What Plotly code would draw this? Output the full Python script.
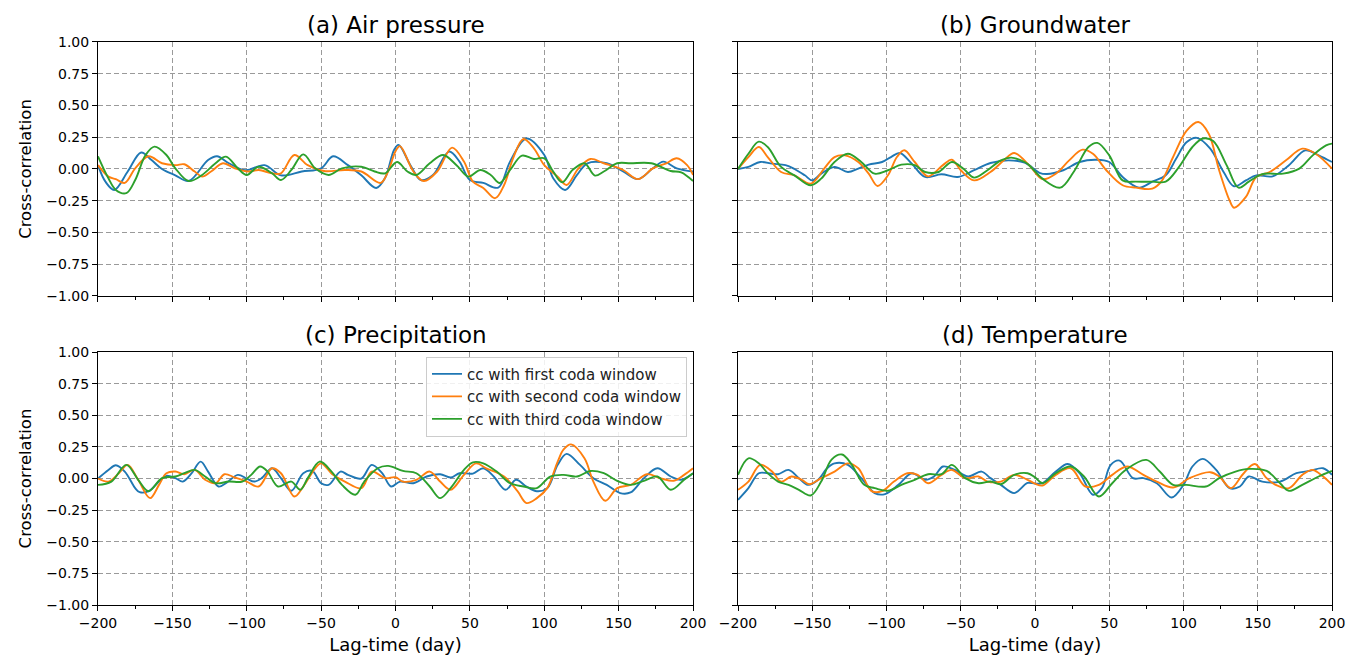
import plotly.graph_objects as go

# ---------------- data (lag in days, cross-correlation) ----------------
ap_first_lag = [-200,-195,-189,-180,-171,-164,-157,-148,-139,-126,-120,-112,-101,-88,-77,-63,-50,-42,-32,-23,-13,-7,-1,2,10,17,25,36,43,50,59,69,77,88,100,106,114,122,129,142,153,163,173,180,189,200]
ap_first_cc = [0.03,-0.1,-0.165,-0.02,0.13,0.07,0.0,-0.05,-0.095,0.07,0.1,0.045,-0.01,0.03,-0.05,-0.02,0.005,0.1,0.03,-0.05,-0.15,-0.07,0.15,0.19,0.03,-0.087,-0.05,0.137,0.058,-0.087,-0.11,-0.147,0.058,0.24,0.11,-0.073,-0.165,-0.047,0.045,0.045,-0.02,-0.08,0.005,0.058,0.005,-0.02]
ap_second_lag = [-200,-193,-188,-182,-175,-166,-157,-148,-142,-135,-130,-124,-116,-108,-99,-92,-83,-77,-68,-59,-48,-34,-23,-10,-5,0,3,12,19,28,38,46,52,59,67,73,79,86,93,100,109,115,123,131,140,153,163,173,182,189,196,200]
ap_second_cc = [0.03,-0.06,-0.08,-0.11,0.005,0.1,0.045,0.03,0.037,-0.02,-0.06,-0.02,0.045,0.005,-0.02,-0.008,-0.034,-0.034,0.11,0.03,-0.016,-0.008,-0.02,-0.11,-0.02,0.14,0.18,-0.02,-0.095,-0.02,0.168,0.058,-0.1,-0.15,-0.23,-0.126,0.084,0.236,0.163,0.03,-0.06,-0.126,0.005,0.079,0.045,-0.008,-0.08,0.005,0.045,0.084,0.03,-0.047]
ap_third_lag = [-200,-193,-188,-181,-175,-168,-162,-154,-148,-139,-130,-121,-114,-106,-100,-92,-83,-77,-70,-62,-54,-45,-36,-23,-14,-7,1,8,14,23,32,41,49,57,64,70,77,85,93,100,106,112,119,127,134,140,149,158,172,185,192,200]
ap_third_cc = [0.1,-0.073,-0.165,-0.19,-0.087,0.11,0.176,0.11,0.005,-0.095,-0.047,0.045,0.097,0.005,-0.047,0.018,-0.034,-0.087,-0.008,0.115,0.005,-0.047,0.005,0.018,-0.02,-0.034,0.055,-0.02,-0.047,0.045,0.11,0.03,-0.06,-0.008,-0.047,-0.11,-0.008,0.105,0.079,0.084,-0.02,-0.105,-0.008,0.045,-0.052,-0.02,0.045,0.045,0.045,-0.016,-0.026,-0.095]

gw_first_lag = [-200,-193,-185,-177,-168,-162,-155,-150,-144,-135,-126,-119,-112,-103,-97,-91,-83,-74,-63,-52,-41,-30,-18,-7,-4,3,8,19,30,41,50,59,70,79,88,95,102,109,118,127,134,142,149,160,171,182,191,200]
gw_first_cc = [0.0,0.016,0.055,0.042,0.03,0.0,-0.05,-0.09,-0.037,0.016,-0.024,0.003,0.034,0.055,0.094,0.126,0.042,-0.063,-0.042,-0.063,-0.01,0.047,0.068,0.05,0.03,-0.03,-0.04,-0.01,0.055,0.073,0.055,-0.063,-0.147,-0.1,-0.05,0.08,0.21,0.245,0.16,-0.024,-0.136,-0.09,-0.05,-0.058,0.03,0.147,0.108,0.055]
gw_second_lag = [-200,-193,-186,-180,-171,-162,-151,-142,-135,-128,-119,-112,-106,-99,-93,-88,-81,-72,-62,-56,-50,-41,-30,-21,-14,-4,5,14,23,32,39,48,59,68,79,85,93,102,110,117,124,131,134,142,149,158,169,180,189,200]
gw_second_cc = [0.0,0.094,0.173,0.094,-0.024,-0.05,-0.115,0.003,0.094,0.107,0.055,-0.037,-0.134,-0.05,0.094,0.147,0.055,-0.058,0.03,0.073,-0.01,-0.09,-0.024,0.068,0.126,0.03,-0.08,-0.037,0.068,0.152,0.12,-0.01,-0.128,-0.147,-0.155,-0.1,0.094,0.3,0.37,0.278,-0.01,-0.247,-0.305,-0.22,-0.063,-0.024,0.068,0.16,0.12,0.003]
gw_third_lag = [-200,-193,-186,-180,-171,-162,-151,-144,-135,-126,-117,-108,-99,-90,-81,-74,-65,-56,-48,-41,-32,-23,-16,-7,-4,5,17,26,36,42,50,59,68,79,88,97,106,113,120,129,137,144,153,167,178,187,196,200]
gw_third_cc = [0.0,0.12,0.215,0.173,0.016,-0.05,-0.128,-0.076,0.055,0.12,0.055,-0.037,-0.01,0.034,0.03,-0.024,-0.024,0.055,0.0,-0.068,-0.01,0.068,0.089,0.055,0.03,-0.076,-0.147,-0.024,0.173,0.205,0.107,-0.09,-0.1,-0.1,-0.1,0.016,0.173,0.24,0.22,0.03,-0.147,-0.1,-0.04,-0.037,0.003,0.107,0.186,0.2]

pr_first_lag = [-200,-193,-188,-182,-175,-172,-166,-159,-154,-148,-143,-137,-131,-126,-119,-114,-106,-100,-95,-90,-83,-77,-70,-62,-56,-50,-45,-37,-32,-23,-16,-9,-3,3,12,21,30,37,43,52,59,66,74,81,88,95,102,109,115,124,133,142,151,158,167,176,185,192,200]
pr_first_cc = [0.0,0.068,0.105,0.055,-0.076,-0.108,-0.1,-0.024,0.021,0.003,-0.024,0.042,0.134,0.055,-0.063,-0.037,0.029,0.0,-0.024,0.003,0.081,0.003,-0.097,0.042,0.06,-0.037,-0.05,0.055,0.029,0.0,0.108,0.042,-0.063,-0.024,-0.037,0.016,0.034,0.008,0.042,0.039,0.081,0.016,-0.089,-0.01,-0.063,-0.1,-0.076,0.108,0.195,0.108,0.003,-0.05,-0.115,-0.11,0.003,0.081,0.016,-0.01,0.042]
pr_second_lag = [-200,-193,-186,-180,-173,-165,-159,-154,-148,-142,-135,-128,-121,-115,-108,-100,-92,-83,-77,-68,-62,-54,-50,-42,-34,-23,-16,-7,0,5,14,23,30,37,46,54,61,73,82,88,95,102,109,113,118,127,133,141,149,158,169,178,187,194,200]
pr_second_cc = [0.0,-0.024,0.042,0.108,-0.01,-0.155,-0.05,0.042,0.055,0.034,0.068,-0.01,-0.037,0.034,0.008,-0.024,-0.063,0.081,0.042,-0.142,-0.063,0.081,0.12,0.029,-0.024,-0.076,0.055,0.003,0.01,-0.024,-0.01,0.055,-0.024,-0.089,0.029,0.12,0.081,0.016,-0.1,-0.194,-0.155,-0.076,0.134,0.23,0.27,0.16,-0.024,-0.176,-0.076,-0.05,0.034,0.003,-0.018,0.029,0.081]
pr_third_lag = [-200,-191,-181,-173,-166,-157,-148,-142,-135,-128,-121,-112,-103,-97,-91,-86,-79,-70,-64,-59,-51,-43,-36,-27,-21,-12,-5,5,14,23,30,37,46,52,59,68,77,86,95,104,113,122,131,140,149,158,167,176,185,194,200]
pr_third_cc = [-0.05,-0.024,0.108,-0.01,-0.1,0.003,0.016,0.042,0.068,0.016,-0.037,-0.024,-0.024,0.029,0.095,0.055,-0.063,-0.024,-0.089,0.003,0.134,0.055,-0.05,-0.128,-0.024,0.081,0.1,0.06,0.042,-0.063,-0.155,-0.076,0.068,0.128,0.12,0.055,-0.037,-0.063,-0.076,0.016,0.029,0.016,0.06,0.042,-0.018,-0.05,-0.018,0.016,-0.089,-0.01,0.042]

te_first_lag = [-200,-193,-186,-180,-173,-166,-159,-153,-146,-140,-135,-126,-117,-108,-101,-92,-83,-74,-68,-62,-54,-45,-36,-30,-23,-14,-5,0,5,14,22,30,39,45,51,57,66,73,82,92,100,106,113,122,131,138,144,153,165,176,185,194,200]
te_first_cc = [-0.168,-0.076,0.042,0.042,0.034,0.068,0.003,-0.05,-0.01,0.081,0.12,0.108,0.003,-0.115,-0.123,-0.05,0.042,-0.01,0.016,0.095,0.068,0.016,0.055,0.003,-0.05,-0.115,-0.035,-0.04,-0.037,0.055,0.115,0.042,-0.128,-0.076,0.108,0.142,0.003,0.003,-0.037,-0.15,-0.05,0.095,0.155,0.068,-0.076,-0.063,0.016,-0.024,-0.024,0.042,0.06,0.081,0.029]
te_second_lag = [-200,-193,-185,-177,-171,-164,-157,-152,-144,-135,-126,-119,-110,-103,-95,-86,-79,-72,-63,-56,-47,-38,-32,-23,-14,-5,0,5,14,24,34,43,52,62,73,82,93,104,118,124,132,140,148,156,162,171,180,187,194,200]
te_second_cc = [-0.089,-0.024,0.108,0.055,-0.024,0.016,-0.01,-0.045,0.003,0.055,0.12,0.081,-0.1,-0.1,-0.024,0.042,0.029,-0.037,0.029,0.068,0.003,0.016,-0.024,-0.024,0.029,-0.01,-0.04,-0.055,0.029,0.081,-0.063,-0.05,0.029,0.095,0.029,-0.024,-0.071,0.003,0.05,0.016,-0.076,0.034,0.115,0.003,-0.05,-0.076,0.029,0.068,0.016,-0.05]
te_third_lag = [-200,-193,-186,-180,-173,-166,-159,-151,-144,-137,-130,-124,-115,-108,-99,-90,-81,-72,-63,-56,-47,-38,-30,-23,-14,-5,0,5,14,24,33,43,52,61,75,84,93,102,115,124,135,144,156,165,171,180,191,200]
te_third_cc = [0.029,0.16,0.12,0.042,-0.024,-0.05,-0.089,-0.134,-0.024,0.15,0.19,0.12,-0.05,-0.076,-0.097,-0.05,-0.01,0.034,0.034,0.108,0.003,-0.037,-0.024,-0.045,0.029,0.042,0.01,-0.037,0.042,0.095,0.016,-0.142,-0.037,0.068,0.147,0.055,-0.05,-0.05,-0.063,0.003,0.055,0.076,0.06,-0.037,-0.097,-0.05,0.016,0.06]

panel_titles = ["(a) Air pressure", "(b) Groundwater", "(c) Precipitation", "(d) Temperature"]
series_names = ["cc with first coda window", "cc with second coda window", "cc with third coda window"]
series_colors = ["#1f77b4", "#ff7f0e", "#2ca02c"]
x_ticks = [-200, -150, -100, -50, 0, 50, 100, 150, 200]
y_ticks = [-1.0, -0.75, -0.5, -0.25, 0.0, 0.25, 0.5, 0.75, 1.0]

panels = [
    [(ap_first_lag, ap_first_cc), (ap_second_lag, ap_second_cc), (ap_third_lag, ap_third_cc)],
    [(gw_first_lag, gw_first_cc), (gw_second_lag, gw_second_cc), (gw_third_lag, gw_third_cc)],
    [(pr_first_lag, pr_first_cc), (pr_second_lag, pr_second_cc), (pr_third_lag, pr_third_cc)],
    [(te_first_lag, te_first_cc), (te_second_lag, te_second_cc), (te_third_lag, te_third_cc)],
]


def fmt(v, d):
    s = f"{v:.{d}f}"
    return s.replace("-", "\u2212")


FONT = "DejaVu Sans"
xdoms = [[0.0728, 0.5149], [0.5483, 0.9896]]
ydoms = [[0.5502, 0.9362], [0.0805, 0.4650]]

fig = go.Figure()
for p, series in enumerate(panels):
    ax = "" if p == 0 else str(p + 1)
    for s, (lag, cc) in enumerate(series):
        fig.add_trace(go.Scatter(
            x=lag, y=cc, mode="lines",
            line=dict(color=series_colors[s], width=1.9, shape="spline", smoothing=1.0),
            name=series_names[s], showlegend=(p == 2), legendgroup=series_names[s],
            xaxis="x" + ax, yaxis="y" + ax, hoverinfo="skip",
        ))

layout = dict(
    width=1346, height=658, margin=dict(l=0, r=0, t=0, b=0, autoexpand=False),
    paper_bgcolor="white", plot_bgcolor="white",
    font=dict(family=FONT, size=14, color="black"),
    showlegend=True,
    legend=dict(x=0.5104, xanchor="right", y=0.458, yanchor="top",
                bgcolor="rgba(255,255,255,0.85)", bordercolor="#cccccc", borderwidth=1,
                font=dict(family=FONT, size=15, color="#222222"),
                tracegroupgap=0, itemwidth=30),
    annotations=[],
)

for p in range(4):
    row, col = divmod(p, 2)
    ax = "" if p == 0 else str(p + 1)
    xa = dict(
        domain=xdoms[col], range=[-200, 200], anchor="y" + ax, automargin=False,
        showline=True, linecolor="black", linewidth=1, mirror=True,
        ticks="outside", ticklen=5, tickcolor="black", tickwidth=1,
        tickvals=x_ticks, ticktext=[fmt(v, 0) for v in x_ticks],
        showticklabels=(row == 1),
        showgrid=True, gridcolor="#9a9a9a", gridwidth=1, griddash="5px,3px",
        zeroline=False,
        minor=dict(dtick=25, tick0=0, ticks="outside", ticklen=3, tickcolor="black", showgrid=False),
        tickfont=dict(family=FONT, size=14, color="black"),
    )
    if row == 1:
        xa["title"] = dict(text="Lag-time (day)", font=dict(family=FONT, size=18, color="black"), standoff=8)
    ya = dict(
        domain=ydoms[row], range=[-1, 1], anchor="x" + ax, automargin=False,
        showline=True, linecolor="black", linewidth=1, mirror=True,
        ticks="outside", ticklen=5, tickcolor="black", tickwidth=1,
        tickvals=y_ticks, ticktext=[fmt(v, 2) for v in y_ticks],
        showticklabels=(col == 0),
        showgrid=True, gridcolor="#9a9a9a", gridwidth=1, griddash="5px,3px",
        zeroline=False,
        tickfont=dict(family=FONT, size=14, color="black"),
    )
    if col == 0:
        ya["title"] = dict(text="Cross-correlation", font=dict(family=FONT, size=16.5, color="black"), standoff=10)
    layout["xaxis" + ax] = xa
    layout["yaxis" + ax] = ya
    layout["annotations"].append(dict(
        text=panel_titles[p], xref="paper", yref="paper",
        x=(xdoms[col][0] + xdoms[col][1]) / 2, y=ydoms[row][1],
        xanchor="center", yanchor="bottom", yshift=2, showarrow=False,
        font=dict(family=FONT, size=23, color="black"),
    ))

fig.update_layout(**layout)
fig.write_html("out.html", config={"displayModeBar": False},
               post_script="document.body.style.margin='0';document.body.style.overflow='hidden';")
